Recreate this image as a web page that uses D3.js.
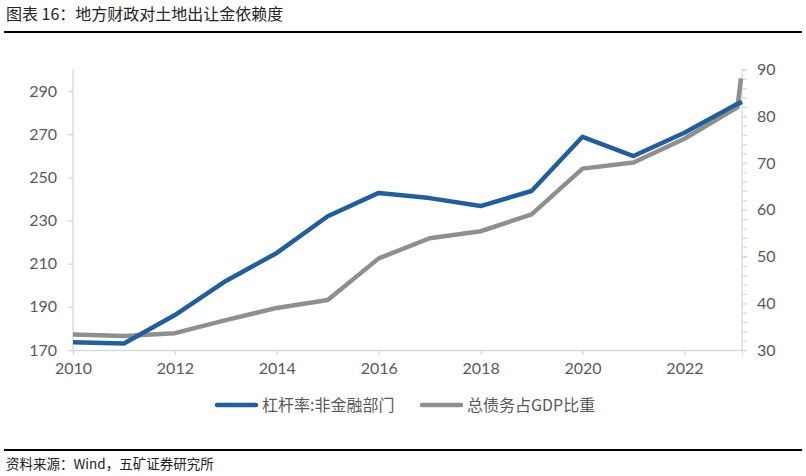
<!DOCTYPE html>
<html><head><meta charset="utf-8">
<script src="https://cdn.jsdelivr.net/npm/d3@7/dist/d3.min.js"></script>
<style>
body{margin:0;background:#fff;}
svg{display:block;}
</style></head>
<body>
<svg id="c" width="806" height="476"></svg>
<script>
const title = "图表 16：地方财政对土地出让金依赖度";
const source = "资料来源：Wind，五矿证券研究所";
const seriesNames = ["杠杆率:非金融部门", "总债务占GDP比重"];
const years = [2010, 2011, 2012, 2013, 2014, 2015, 2016, 2017, 2018, 2019, 2020, 2021, 2022, 2023, 2023.13];
const leverage = [173.6, 173.0, 186.2, 202.0, 215.0, 232.0, 242.8, 240.4, 236.7, 243.7, 268.8, 259.9, 270.7, 283.6, 285.0];
const debtYears = [2010, 2011, 2012, 2013, 2014, 2015, 2016, 2017, 2018, 2019, 2020, 2021, 2022, 2023.04, 2023.11];
const debtRatio = [33.3, 33.0, 33.6, 36.4, 39.0, 40.7, 49.6, 53.9, 55.4, 59.0, 68.8, 70.1, 75.2, 81.9, 88.1];
const xTicks = [2010, 2012, 2014, 2016, 2018, 2020, 2022];
const leftTicks = [170, 190, 210, 230, 250, 270, 290];
const rightTicks = [30, 40, 50, 60, 70, 80, 90];
const rightMinor = d3.range(30, 91, 2);

const svg = d3.select("#c");
const numFont = "Lato, 'Noto Sans', sans-serif";
const cjkFont = "'Noto Sans CJK SC', sans-serif";
const axisColor = "#d9d9d9";
const labelColor = "#595959";

// title and rules
svg.append("text").attr("x", 6).attr("y", 20).attr("font-family", cjkFont)
  .attr("font-size", 16).attr("fill", "#222").text(title);
svg.append("line").attr("x1", 4).attr("x2", 802).attr("y1", 32).attr("y2", 32)
  .attr("stroke", "#000").attr("stroke-width", 2);
svg.append("line").attr("x1", 4).attr("x2", 802).attr("y1", 450).attr("y2", 450)
  .attr("stroke", "#000").attr("stroke-width", 2);
svg.append("text").attr("x", 6).attr("y", 469).attr("font-family", cjkFont)
  .attr("font-size", 13.5).attr("fill", "#222").text(source);

const x = d3.scaleLinear().domain([2010, 2023.13]).range([73, 742]);
const yL = d3.scaleLinear().domain([170, 300]).range([350, 69.5]);
const yR = d3.scaleLinear().domain([30, 90]).range([350, 69.5]);

// left axis
const gL = svg.append("g").attr("transform", "translate(73,0)")
  .call(d3.axisLeft(yL).tickValues(leftTicks).tickSize(5).tickPadding(11).tickFormat(d3.format("d")));
// right axis minor
const gRm = svg.append("g").attr("transform", "translate(742,0)")
  .call(d3.axisRight(yR).tickValues(rightMinor).tickSize(5).tickFormat(""));
gRm.select(".domain").remove();
const gR = svg.append("g").attr("transform", "translate(742,0)")
  .call(d3.axisRight(yR).tickValues(rightTicks).tickSize(5).tickPadding(10).tickFormat(d3.format("d")));
// bottom axis
const gB = svg.append("g").attr("transform", "translate(0,350)")
  .call(d3.axisBottom(x).tickValues(xTicks).tickSize(5).tickPadding(8).tickFormat(d3.format("d")));

[gL, gR, gRm, gB].forEach(g => {
  g.selectAll(".domain").attr("stroke", axisColor).attr("stroke-width", 1.3);
  g.selectAll(".tick line").attr("stroke", axisColor).attr("stroke-width", 1.3);
  g.selectAll("text").attr("font-family", numFont).attr("font-size", 16).attr("fill", labelColor);
});
gL.select(".domain").attr("d", "M0,69.5V350");
gR.select(".domain").attr("d", "M0,69.5V350");

// lines
const lineL = d3.line().x((d, i) => x(years[i])).y(d => yL(d));
const lineR = d3.line().x((d, i) => x(debtYears[i])).y(d => yR(d));
svg.append("path").attr("d", lineR(debtRatio)).attr("fill", "none")
  .attr("stroke", "#8f8f8f").attr("stroke-width", 4.5).attr("stroke-linejoin", "round");
svg.append("path").attr("d", lineL(leverage)).attr("fill", "none")
  .attr("stroke", "#235e9c").attr("stroke-width", 4.5).attr("stroke-linejoin", "round");

// legend
const legend = [
  {name: seriesNames[0], color: "#235e9c", x: 217},
  {name: seriesNames[1], color: "#8f8f8f", x: 422}
];
legend.forEach(l => {
  svg.append("line").attr("x1", l.x).attr("x2", l.x + 39).attr("y1", 405).attr("y2", 405)
    .attr("stroke", l.color).attr("stroke-width", 4.5).attr("stroke-linecap", "round");
  svg.append("text").attr("x", l.x + 45).attr("y", 411).attr("font-family", cjkFont)
    .attr("font-size", 16).attr("fill", labelColor).text(l.name);
});
</script>
</body></html>
